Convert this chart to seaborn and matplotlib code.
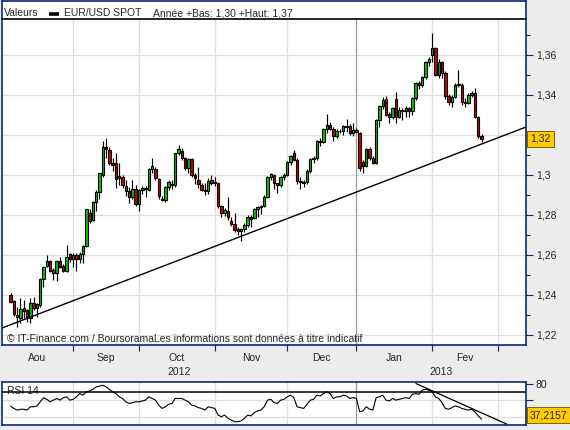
import numpy as np
import pandas as pd
import matplotlib
matplotlib.use("Agg")
import matplotlib.pyplot as plt
import seaborn as sns

# EUR/USD daily candles, 7 Aug 2012 - 22 Feb 2013
opens = [
    1.2400, 1.2372, 1.2300, 1.2283, 1.2337, 1.2325, 1.2283, 1.2362, 1.2333, 1.2350,
    1.2478, 1.2545, 1.2570, 1.2525, 1.2510, 1.2572, 1.2545, 1.2522, 1.2603,
    1.2578, 1.2600, 1.2578, 1.2605, 1.2645, 1.2812, 1.2775, 1.2867, 1.2917, 1.3000,
    1.3138, 1.3125, 1.3058, 1.3060, 1.2985, 1.2988, 1.2945, 1.2920, 1.2892, 1.2928,
    1.2855, 1.2925, 1.2935, 1.2925, 1.3028, 1.3030, 1.2980, 1.2880, 1.2875, 1.2942,
    1.2955, 1.2948, 1.3108, 1.3122, 1.3083, 1.3033, 1.3078, 1.2998, 1.2975, 1.2950,
    1.2925, 1.2922, 1.2975,
    1.2965, 1.2958, 1.2845, 1.2812, 1.2820, 1.2770, 1.2755, 1.2728, 1.2720, 1.2730,
    1.2750, 1.2792, 1.2785, 1.2828, 1.2838, 1.2845, 1.2892, 1.2992, 1.3000, 1.2958,
    1.2952, 1.2988,
    1.3000, 1.3067, 1.3112, 1.3077, 1.2970, 1.2965, 1.2965, 1.3020, 1.3078, 1.3085,
    1.3170, 1.3165, 1.3228, 1.3250, 1.3232, 1.3195, 1.3220, 1.3220, 1.3245, 1.3245,
    1.3210,
    1.3225, 1.3210, 1.3065, 1.3045, 1.3128, 1.3085, 1.3062, 1.3273, 1.3345, 1.3380,
    1.3305, 1.3288, 1.3378, 1.3290, 1.3325, 1.3318, 1.3333, 1.3318, 1.3383, 1.3458,
    1.3452, 1.3492, 1.3567,
    1.3600, 1.3633, 1.3500, 1.3565, 1.3510, 1.3395, 1.3367, 1.3390, 1.3450, 1.3450,
    1.3365, 1.3362, 1.3400, 1.3408, 1.3290, 1.3195,
]
highs = [
    1.2410, 1.2376, 1.2342, 1.2383, 1.2375, 1.2330, 1.2383, 1.2392, 1.2360, 1.2485,
    1.2545, 1.2600, 1.2575, 1.2535, 1.2575, 1.2590, 1.2555, 1.2650, 1.2608,
    1.2610, 1.2612, 1.2615, 1.2650, 1.2832, 1.2830, 1.2870, 1.2925, 1.3010, 1.3170,
    1.3183, 1.3140, 1.3085, 1.3108, 1.3058, 1.3000, 1.2975, 1.2940, 1.2975, 1.2950,
    1.2930, 1.2945, 1.2945, 1.3035, 1.3085, 1.3040, 1.2985, 1.2895, 1.2945, 1.2975,
    1.2975, 1.3112, 1.3150, 1.3135, 1.3090, 1.3085, 1.3085, 1.3010, 1.3040, 1.2960,
    1.2960, 1.2985, 1.3000,
    1.2990, 1.2965, 1.2850, 1.2835, 1.2892, 1.2790, 1.2810, 1.2740, 1.2735, 1.2760,
    1.2800, 1.2800, 1.2835, 1.2845, 1.2850, 1.2900, 1.2995, 1.3010, 1.3005, 1.2962,
    1.2995, 1.3010,
    1.3070, 1.3100, 1.3125, 1.3085, 1.2990, 1.2975, 1.3030, 1.3085, 1.3095, 1.3175,
    1.3185, 1.3235, 1.3307, 1.3265, 1.3240, 1.3230, 1.3228, 1.3250, 1.3280, 1.3255,
    1.3260,
    1.3235, 1.3215, 1.3075, 1.3135, 1.3140, 1.3095, 1.3278, 1.3350, 1.3392, 1.3395,
    1.3315, 1.3340, 1.3415, 1.3340, 1.3335, 1.3345, 1.3340, 1.3390, 1.3465, 1.3470,
    1.3495, 1.3570, 1.3590,
    1.3711, 1.3640, 1.3580, 1.3570, 1.3520, 1.3405, 1.3400, 1.3460, 1.3525, 1.3460,
    1.3385, 1.3410, 1.3420, 1.3435, 1.3295, 1.3205,
]
lows = [
    1.2362, 1.2295, 1.2242, 1.2258, 1.2283, 1.2267, 1.2258, 1.2325, 1.2290, 1.2340,
    1.2440, 1.2540, 1.2515, 1.2475, 1.2472, 1.2535, 1.2515, 1.2515, 1.2565,
    1.2540, 1.2518, 1.2560, 1.2560, 1.2640, 1.2760, 1.2770, 1.2820, 1.2880, 1.2990,
    1.3083, 1.3050, 1.3020, 1.2933, 1.2950, 1.2935, 1.2895, 1.2858, 1.2880, 1.2845,
    1.2820, 1.2905, 1.2890, 1.2920, 1.3010, 1.2975, 1.2880, 1.2870, 1.2865, 1.2925,
    1.2930, 1.2940, 1.3100, 1.3075, 1.3025, 1.3010, 1.2990, 1.2955, 1.2935, 1.2920,
    1.2900, 1.2905, 1.2950,
    1.2945, 1.2835, 1.2790, 1.2795, 1.2775, 1.2745, 1.2715, 1.2700, 1.2670, 1.2715,
    1.2740, 1.2740, 1.2780, 1.2790, 1.2805, 1.2840, 1.2885, 1.2975, 1.2930, 1.2910,
    1.2940, 1.2975,
    1.2995, 1.3050, 1.3070, 1.2955, 1.2930, 1.2940, 1.2955, 1.3010, 1.3060, 1.3075,
    1.3145, 1.3160, 1.3210, 1.3225, 1.3170, 1.3185, 1.3212, 1.3200, 1.3215, 1.3200,
    1.3195,
    1.3210, 1.3020, 1.3010, 1.3040, 1.3075, 1.3055, 1.3055, 1.3240, 1.3330, 1.3295,
    1.3260, 1.3280, 1.3258, 1.3285, 1.3275, 1.3290, 1.3290, 1.3300, 1.3375, 1.3430,
    1.3440, 1.3480, 1.3545,
    1.3565, 1.3495, 1.3485, 1.3485, 1.3380, 1.3350, 1.3340, 1.3385, 1.3440, 1.3350,
    1.3340, 1.3355, 1.3390, 1.3285, 1.3185, 1.3165,
]
closes = [
    1.2367, 1.2305, 1.2288, 1.2330, 1.2322, 1.2292, 1.2358, 1.2333, 1.2355, 1.2478,
    1.2542, 1.2572, 1.2522, 1.2510, 1.2572, 1.2542, 1.2522, 1.2588, 1.2578,
    1.2600, 1.2578, 1.2605, 1.2645, 1.2828, 1.2772, 1.2867, 1.2917, 1.3008, 1.3138,
    1.3128, 1.3058, 1.3050, 1.2978, 1.2995, 1.2950, 1.2920, 1.2892, 1.2928, 1.2855,
    1.2925, 1.2935, 1.2928, 1.3028, 1.3045, 1.2983, 1.2895, 1.2875, 1.2942, 1.2967,
    1.2948, 1.3108, 1.3128, 1.3083, 1.3033, 1.3078, 1.3000, 1.2985, 1.2955, 1.2925,
    1.2920, 1.2972, 1.2962,
    1.2958, 1.2845, 1.2812, 1.2825, 1.2788, 1.2755, 1.2725, 1.2720, 1.2728, 1.2750,
    1.2792, 1.2782, 1.2828, 1.2838, 1.2845, 1.2892, 1.2992, 1.3005, 1.2958, 1.2950,
    1.2988, 1.3000,
    1.3067, 1.3095, 1.3077, 1.2970, 1.2965, 1.2960, 1.3020, 1.3078, 1.3085, 1.3170,
    1.3165, 1.3228, 1.3250, 1.3232, 1.3195, 1.3220, 1.3218, 1.3245, 1.3240, 1.3210,
    1.3225,
    1.3215, 1.3037, 1.3045, 1.3128, 1.3085, 1.3062, 1.3273, 1.3345, 1.3375, 1.3300,
    1.3292, 1.3333, 1.3290, 1.3325, 1.3318, 1.3333, 1.3320, 1.3383, 1.3458, 1.3452,
    1.3492, 1.3567, 1.3580,
    1.3633, 1.3500, 1.3565, 1.3510, 1.3395, 1.3367, 1.3390, 1.3450, 1.3455, 1.3367,
    1.3362, 1.3400, 1.3408, 1.3290, 1.3195, 1.3180,
]
rsi_values = [
    52.8, 50, 48, 49, 49, 48, 52, 52, 53, 58,
    63, 61, 58, 60, 62, 60, 63, 64, 60, 61,
    64, 68, 66, 70, 71, 73, 76, 77, 78, 76,
    73, 70, 68, 64, 62, 58, 56, 57, 58, 58,
    59, 60, 64, 62, 60, 54, 50, 52, 55, 56,
    62, 62, 62, 60, 58, 54, 53, 51, 50, 48,
    52, 51, 50, 42, 40, 42, 38, 36, 34, 34,
    35, 38, 42, 41, 45, 47, 48, 52, 60, 61,
    57, 56, 60, 61, 64, 66, 63, 52, 51, 50,
    55, 60, 61, 66, 65, 68, 70, 68, 62, 64,
    64, 66, 65, 62, 63, 62, 46, 47, 52, 49,
    48, 63, 64, 66, 60, 59, 62, 60, 61, 62,
    63, 62, 67, 68, 67, 72, 73, 72, 70, 64,
    62, 57, 50, 49, 51, 53, 52, 50, 49, 48,
    49, 46, 41, 37.2157,
]

month_labels = ["Aou", "Sep", "Oct", "Nov", "Dec", "Jan", "Fev"]
year_labels = ["2012", "2013"]
price_ticks = [1.22, 1.24, 1.26, 1.28, 1.30, 1.32, 1.34, 1.36]
rsi_ticks = [40, 60, 80]
# support lines drawn on the chart (start / end)
trend_x = [-2.6, 156.5]
trend_y = [1.2235, 1.3240]
rsi_trend_x = [123.1, 150.6]
rsi_trend_y = [80.0, 31.2]

days = pd.bdate_range("2012-08-07", "2013-03-08")
df = pd.DataFrame({"date": days[:len(closes)], "open": opens, "high": highs,
                   "low": lows, "close": closes, "rsi": rsi_values})
df["pos"] = np.arange(len(df))
month_starts = [i for i in range(1, len(days)) if days[i].month != days[i - 1].month]

sns.set_style("white")
plt.rcParams["font.family"] = ["Liberation Sans", "DejaVu Sans"]
plt.rcParams["font.size"] = 7.5

NAVY = "#0B2676"
GRID = "#DEDEDE"
W, H = 570, 430


def px_rect(x0, y0, x1, y1):
    return [x0 / W, 1 - y1 / H, (x1 - x0) / W, (y1 - y0) / H]


fig = plt.figure(figsize=(5.7, 4.3), dpi=100)
fig.patch.set_facecolor("#ECECEC")

ax_head = fig.add_axes(px_rect(2, 1, 526, 19))
ax = fig.add_axes(px_rect(2, 19, 526, 345))
ax_rsi = fig.add_axes(px_rect(2, 382, 526, 425))

xlim = (-2.6, 156.5)

# header strip
ax_head.set_xlim(2, 526)
ax_head.set_ylim(19, 1)
ax_head.set_xticks([])
ax_head.set_yticks([])
for s in ax_head.spines.values():
    s.set_color(NAVY)
    s.set_linewidth(1.2)
ax_head.spines["bottom"].set_visible(False)
year_low = df.loc[df["date"].dt.year == 2013, "low"].min()
year_high = df.loc[df["date"].dt.year == 2013, "high"].max()
ax_head.text(3.5, 13, "Valeurs", va="center", ha="left", fontsize=7.5)
ax_head.plot([49, 59], [14, 14], color="black", lw=2.6, solid_capstyle="butt")
ax_head.text(64, 13, "EUR/USD SPOT", va="center", ha="left", fontsize=7.5)
ax_head.text(153, 13, f"Année +Bas: {year_low:.2f} +Haut: {year_high:.2f}".replace(".", ","),
             va="center", ha="left", fontsize=7.5)

# main candle chart
ax.set_facecolor("white")
ax.set_xlim(*xlim)
ax.set_ylim(1.215, 1.378)
for y in price_ticks:
    ax.axhline(y, color=GRID, lw=0.9, zorder=0)
for i in month_starts:
    ax.axvline(i, color="#9A9A9A" if days[i].month == 1 else GRID, lw=0.9, zorder=0)

up = df["close"] >= df["open"]
ax.vlines(df["pos"], df["low"], df["high"], color="black", lw=0.85, zorder=2)
body_low = df[["open", "close"]].min(axis=1)
body_h = (df["close"] - df["open"]).abs().clip(lower=0.00025)
ax.bar(df["pos"], body_h, bottom=body_low, width=0.74,
       color=np.where(up, "#00C400", "#CC0000"), edgecolor="black", linewidth=0.8, zorder=3)
ax.plot(trend_x, trend_y, color="black", lw=1.0, zorder=4)

last_close = df["close"].iloc[-1]
last_label = f"{last_close:.2f}".replace(".", ",")

ax.yaxis.tick_right()
ax.set_yticks(price_ticks)
# the tick label under the yellow last-price box is hidden by it
ax.set_yticklabels(["" if abs(v - last_close) < 0.008 else f"{v:.2f}".rstrip("0").replace(".", ",")
                    for v in price_ticks])
ax.set_yticks(np.arange(1.23, 1.38, 0.02), minor=True)
ax.tick_params(axis="y", which="major", right=True, length=5, width=0.8, color=NAVY,
               direction="out", pad=2, labelsize=7.5)
ax.tick_params(axis="y", which="minor", right=True, length=3, width=0.8, color=NAVY,
               direction="out")

bounds = [xlim[0]] + month_starts
label_pos = [(bounds[i] + bounds[i + 1]) / 2 for i in range(len(month_labels))]
ax.set_xticks(month_starts)
ax.set_xticklabels([])
ax.set_xticks(label_pos, minor=True)
ax.set_xticklabels(month_labels, minor=True)
ax.tick_params(axis="x", which="major", bottom=True, length=4, width=0.8, color=NAVY,
               direction="out")
ax.tick_params(axis="x", which="minor", bottom=True, length=0, pad=6, labelsize=7.5)

jan = [i for i in month_starts if days[i].month == 1][0]
year_pos = [(xlim[0] + jan) / 2, (jan + xlim[1]) / 2]
for label, xp in zip(year_labels, year_pos):
    ax.annotate(label, xy=(xp, 0), xycoords=("data", "axes fraction"),
                xytext=(0, -27), textcoords="offset pixels",
                ha="center", va="center", fontsize=7.5)

for side, s in ax.spines.items():
    s.set_color(NAVY)
    s.set_linewidth(1.2)
ax.spines["top"].set_color("black")

ax.text(5 / 524, 6 / 326, "© IT-Finance.com / BoursoramaLes informations sont données à titre indicatif",
        transform=ax.transAxes, ha="left", va="center", fontsize=7.5, zorder=5)

ax.annotate(last_label, xy=(1, last_close),
            xycoords=("axes fraction", "data"), xytext=(4, 0), textcoords="offset pixels",
            ha="left", va="center", fontsize=7.5, zorder=6, annotation_clip=False,
            bbox=dict(boxstyle="square,pad=0.3", fc="#FFCC00", ec="#7A6000", lw=0.7))

# RSI panel
ax_rsi.set_facecolor("white")
ax_rsi.set_xlim(*xlim)
ax_rsi.set_ylim(30, 81.9)
for y in [40, 60]:
    ax_rsi.axhline(y, color=GRID, lw=0.9, zorder=0)
for i in month_starts:
    ax_rsi.axvline(i, color="#9A9A9A" if days[i].month == 1 else GRID, lw=0.9, zorder=0)
ax_rsi.text(5 / 524, 0.8, "RSI 14", transform=ax_rsi.transAxes, ha="left", va="center",
            fontsize=7.5, zorder=1)
ax_rsi.axhline(70, color="black", lw=1.1, zorder=2)
sns.lineplot(data=df, x="pos", y="rsi", ax=ax_rsi, color="black", lw=0.8, zorder=3)
ax_rsi.plot(rsi_trend_x, rsi_trend_y, color="black", lw=0.9, zorder=3)
ax_rsi.set_xlabel("")
ax_rsi.set_ylabel("")
ax_rsi.set_xticks([])
ax_rsi.yaxis.tick_right()
ax_rsi.set_yticks(rsi_ticks)
ax_rsi.set_yticklabels(["", "", "80"])
ax_rsi.tick_params(axis="y", right=True, length=5, width=0.8, color=NAVY,
                   direction="out", pad=2, labelsize=7.5)
for s in ax_rsi.spines.values():
    s.set_color(NAVY)
    s.set_linewidth(1.2)

last_rsi = df["rsi"].iloc[-1]
ax_rsi.annotate(f"{last_rsi:.4f}".replace(".", ","), xy=(1, last_rsi),
                xycoords=("axes fraction", "data"), xytext=(4, 4), textcoords="offset pixels",
                ha="left", va="center", fontsize=7.5, zorder=6, annotation_clip=False,
                bbox=dict(boxstyle="square,pad=0.3", fc="#FFCC00", ec="#7A6000", lw=0.7))

fig.savefig("out.png", dpi=100, facecolor=fig.get_facecolor())
